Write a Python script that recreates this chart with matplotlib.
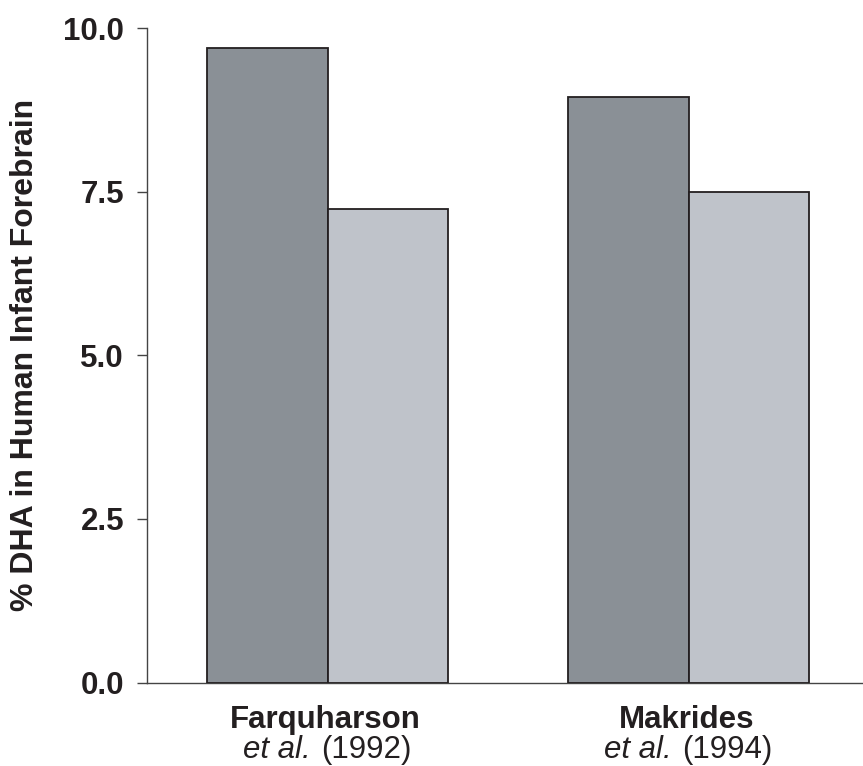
import matplotlib.pyplot as plt
import numpy as np

plt.rcParams['font.family'] = ['Liberation Sans', 'DejaVu Sans']

# data
studies = ['Farquharson', 'Makrides']
years = ['1992', '1994']
dark_vals = [9.70, 8.95]
light_vals = [7.23, 7.50]
yticks = [0.0, 2.5, 5.0, 7.5, 10.0]

text_col = '#231f20'
dark_col = '#8a9096'
light_col = '#bfc3ca'

fig = plt.figure(figsize=(8.63, 7.66), dpi=100)
ax = fig.add_axes([147 / 863, 1 - 682.5 / 766, 1 - 147 / 863, (682.5 - 28) / 766])

x = np.arange(len(studies))
w = 0.334
ax.bar(x - w / 2, dark_vals, w, color=dark_col, edgecolor=text_col, linewidth=1.3, zorder=3)
ax.bar(x + w / 2, light_vals, w, color=light_col, edgecolor=text_col, linewidth=1.3, zorder=3)

ax.set_xlim(-0.5, 1.483)
ax.set_ylim(0, 10)
ax.set_yticks(yticks)
ax.set_yticklabels([f'{v:.1f}' for v in yticks], fontsize=22.5, fontweight='bold', color=text_col)
ax.tick_params(axis='y', length=7.5, width=1.0, color='#444444', pad=9)
ax.set_xticks([])

for s in ['top', 'right']:
    ax.spines[s].set_visible(False)
for s in ['left', 'bottom']:
    ax.spines[s].set_color('#444444')
    ax.spines[s].set_linewidth(1.0)

ax.set_ylabel('% DHA in Human Infant Forebrain', fontsize=23, fontweight='bold', color=text_col)
ax.yaxis.set_label_coords(-0.149, 0.5)

# two-line category labels: bold name, then italic "et al." + plain year
trans = ax.get_xaxis_transform()
for xi, name, yr in zip(x, studies, years):
    ax.annotate(name, xy=(xi, 0), xycoords=trans, xytext=(-1.5, -16), textcoords='offset points',
                ha='center', va='top', fontsize=22.5, fontweight='bold', color=text_col)
    ax.annotate('et al.', xy=(xi, 0), xycoords=trans, xytext=(-12.5, -38),
                textcoords='offset points', ha='right', va='top', fontsize=22.5,
                style='italic', color=text_col)
    ax.annotate(f'({yr})', xy=(xi, 0), xycoords=trans, xytext=(-4.5, -38),
                textcoords='offset points', ha='left', va='top', fontsize=22.5,
                color=text_col)

fig.savefig('out.png', dpi=100)
